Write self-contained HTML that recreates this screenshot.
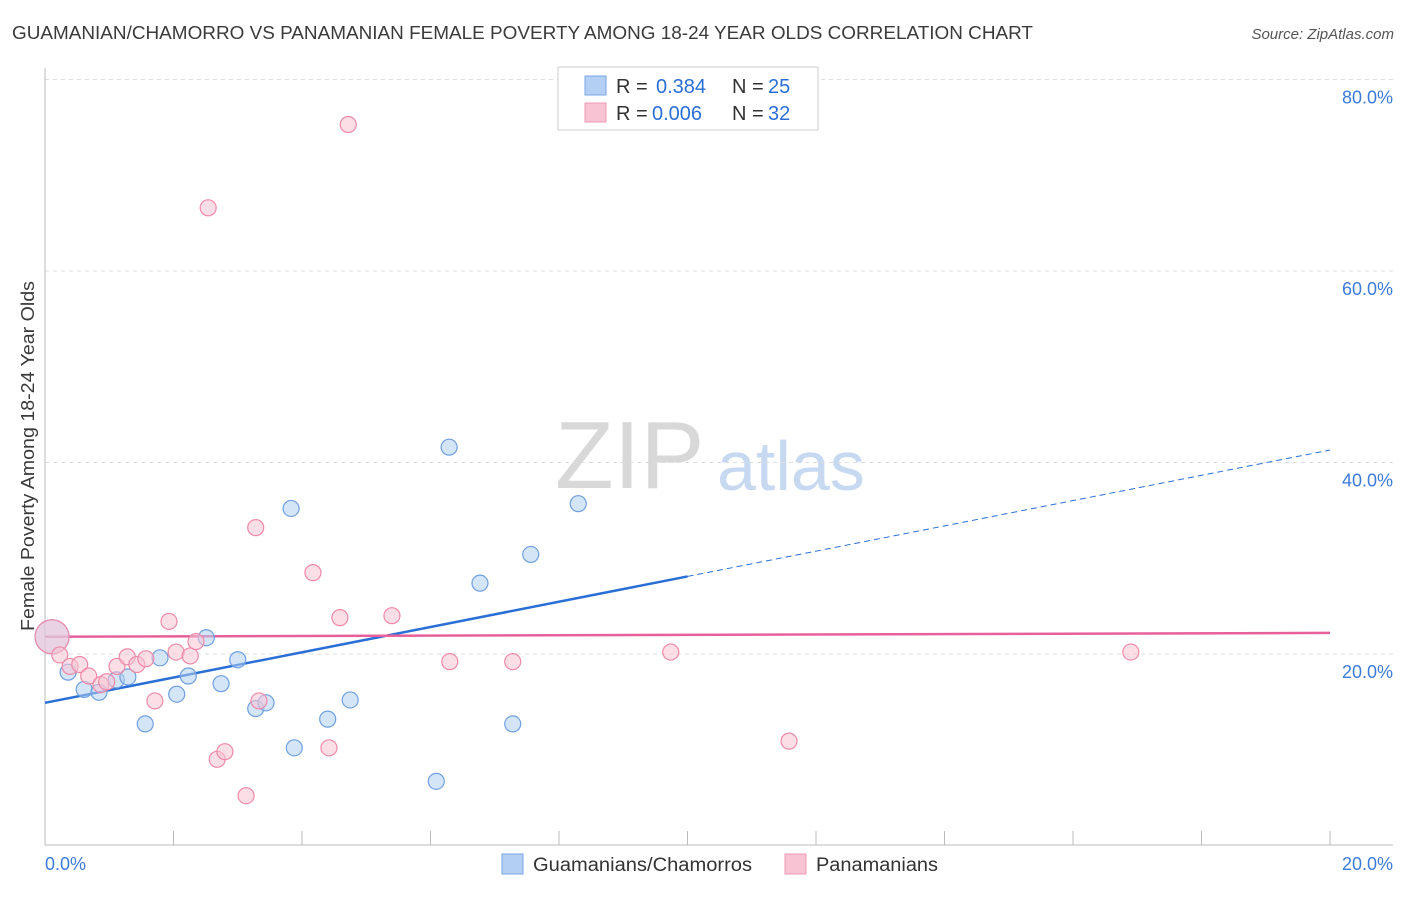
<!DOCTYPE html>
<html><head><meta charset="utf-8"><style>
body{margin:0;background:#fff;font-family:"Liberation Sans",sans-serif}
svg text{font-family:"Liberation Sans",sans-serif}
</style></head><body>
<svg id="chart" width="1406" height="892" xmlns="http://www.w3.org/2000/svg">
<text x="12" y="39" font-size="18" fill="#3a3a3a" textLength="1021" lengthAdjust="spacingAndGlyphs">GUAMANIAN/CHAMORRO VS PANAMANIAN FEMALE POVERTY AMONG 18-24 YEAR OLDS CORRELATION CHART</text>
<text x="1394" y="39" font-size="15" fill="#555" text-anchor="end" font-style="italic">Source: ZipAtlas.com</text>
<g>
<text x="555" y="488" font-size="96" fill="#d8d8d8" font-family="Liberation Serif, serif">ZIP</text>
<text x="717" y="490" font-size="70" fill="#c7d9f1">atlas</text>
</g>
<g id="grid"></g>
<g id="axes"></g>
<g id="lines"></g>
<g id="points"></g>
<text transform="translate(34,456) rotate(-90)" font-size="18" fill="#3a3a3a" text-anchor="middle" textLength="350" lengthAdjust="spacingAndGlyphs">Female Poverty Among 18-24 Year Olds</text>
<text x="45" y="870" font-size="18" fill="#3d7bd8">0.0%</text>
<text x="1393" y="870" font-size="18" fill="#3d7bd8" text-anchor="end">20.0%</text>
<g>
<rect x="558" y="67" width="260" height="63" fill="#fff" stroke="#ccc"/>
<rect x="585" y="76" width="21" height="19" fill="#b3cff3" stroke="#7aa6e4"/>
<rect x="585" y="103" width="21" height="19" fill="#f8c3d2" stroke="#ee9ab5"/>
<text x="616" y="93" font-size="20" fill="#333">R =</text>
<text x="656" y="93" font-size="20" fill="#2a6fd6">0.384</text>
<text x="732" y="93" font-size="20" fill="#333">N =</text>
<text x="768" y="93" font-size="20" fill="#2a6fd6">25</text>
<text x="616" y="120" font-size="20" fill="#333">R =</text>
<text x="652" y="120" font-size="20" fill="#2a6fd6">0.006</text>
<text x="732" y="120" font-size="20" fill="#333">N =</text>
<text x="768" y="120" font-size="20" fill="#2a6fd6">32</text>
</g>
<g>
<rect x="502" y="854" width="21" height="20" fill="#b3cff3" stroke="#7aa6e4"/>
<text x="533" y="871" font-size="19" fill="#333" textLength="219" lengthAdjust="spacingAndGlyphs">Guamanians/Chamorros</text>
<rect x="785" y="854" width="21" height="20" fill="#f8c3d2" stroke="#ee9ab5"/>
<text x="816" y="871" font-size="19" fill="#333" textLength="122" lengthAdjust="spacingAndGlyphs">Panamanians</text>
</g>
</svg>
<script>
const yTicks=[20,40,60,80];
const yTickLabels=["20.0%","40.0%","60.0%","80.0%"];
const blueX=[0.11,0.36,0.61,0.84,1.11,1.29,1.56,1.79,2.05,2.23,2.51,2.74,3.00,3.28,3.44,3.83,3.88,4.40,4.75,6.09,6.29,6.77,7.28,7.56,8.30];
const blueY=[21.8,18.1,16.3,16.0,17.3,17.6,12.7,19.6,15.8,17.7,21.7,16.9,19.4,14.3,14.9,35.2,10.2,13.2,15.2,6.7,41.6,27.4,12.7,30.4,35.7];
const pinkX=[0.11,0.23,0.39,0.54,0.68,0.87,0.96,1.12,1.28,1.43,1.57,1.71,1.93,2.04,2.26,2.35,2.54,2.68,2.80,3.13,3.28,3.33,4.17,4.42,4.59,4.72,5.40,6.30,7.28,9.74,11.58,16.90];
const pinkY=[21.8,19.9,18.7,18.9,17.7,16.8,17.1,18.7,19.7,18.9,19.5,15.1,23.4,20.2,19.8,21.3,66.6,9.0,9.8,5.2,33.2,15.1,28.5,10.2,23.8,75.3,24.0,19.2,19.2,20.2,10.9,20.2];
const blueTrend=[14.9,1.32];
const pinkTrend=[21.8,0.02];
const NS="http://www.w3.org/2000/svg";
const xS=v=>45+v*64.25, yS=v=>845.5-v*9.575;
function mk(tag,attrs,parent){const e=document.createElementNS(NS,tag);for(const k in attrs)e.setAttribute(k,attrs[k]);document.getElementById(parent).appendChild(e);return e;}
yTicks.forEach((t,i)=>{
 const g=mk('line',{x1:45,x2:1393,y1:yS(t),y2:yS(t),stroke:'#ddd','stroke-dasharray':'4,4'},'grid');
 
 
 const tx=mk('text',{x:1393,y:yS(t)+24,'font-size':18,fill:'#3d7bd8','text-anchor':'end'},'grid');
 tx.textContent=yTickLabels[i];
 
 
});
const ax=mk('line',{x1:45,x2:1393,y1:845,y2:845,stroke:'#bbb'},'axes');


const ay=mk('line',{x1:45,x2:45,y1:68,y2:845,stroke:'#bbb'},'axes');


for(let i=0;i<=20;i+=2){
 const t=mk('line',{x1:xS(i),x2:xS(i),y1:831,y2:845,stroke:'#bbb'},'axes');
 
 
}
function pts(xs,ys,fill,stroke,name){
 xs.forEach((x,i)=>{
  const big=i===0;
  const c=mk('circle',{cx:xS(x),cy:yS(ys[i]),r:big?17:8,fill:fill,'fill-opacity':0.55,stroke:stroke,'stroke-width':1.2},'points');
  
  
 });
}
pts(blueX,blueY,'#b3cff3','#6f9fe0','guamanian-point');
pts(pinkX,pinkY,'#f8c3d2','#ee8aa8','panamanian-point');
const b1=mk('line',{x1:xS(0),y1:yS(blueTrend[0]),x2:xS(10),y2:yS(blueTrend[0]+blueTrend[1]*10),stroke:'#2a6fd6','stroke-width':2.5},'lines');


const b2=mk('line',{x1:xS(10),y1:yS(blueTrend[0]+blueTrend[1]*10),x2:xS(20),y2:yS(blueTrend[0]+blueTrend[1]*20),stroke:'#2a6fd6','stroke-width':1,'stroke-dasharray':'6,4'},'lines');


const p1=mk('line',{x1:xS(0),y1:yS(pinkTrend[0]),x2:xS(20),y2:yS(pinkTrend[0]+pinkTrend[1]*20),stroke:'#e8609a','stroke-width':2.5},'lines');


</script>
</body></html>
